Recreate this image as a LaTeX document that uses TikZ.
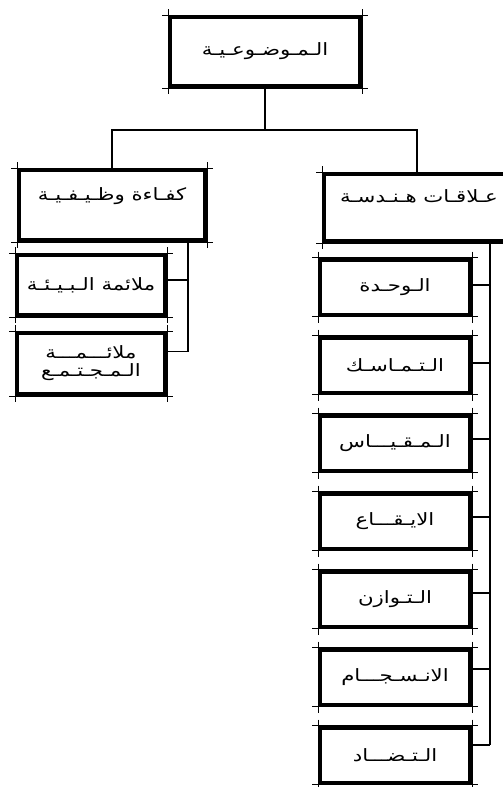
\documentclass[tikz,border=0pt]{standalone}
\usepackage{fontspec}
\newfontfamily\arabicfont[Script=Arabic, FakeStretch=1.25]{DejaVu Sans}
\TeXXeTstate=1
\usetikzlibrary{positioning}
\newcommand{\artxt}[1]{\beginR #1\endR}
\tikzset{
    box/.style={
        rectangle,
        draw=black,
        line width=4pt,
        fill=white,
        font={\arabicfont\fontsize{17}{21}\selectfont},
        align=center,
        inner sep=2pt
    },
    headbox/.style={box, text height=13pt, text depth=23pt},
    subbox/.style={box, minimum width=150pt, minimum height=55pt},
    link/.style={line width=1.6pt, draw=black},
    tick/.style={line width=0.8pt, draw=black}
}

\begin{document}
\begin{tikzpicture}[x=1pt, y=-1pt]
\useasboundingbox (0,0) rectangle (503,787);
\clip (0,0) rectangle (503,787);

% 1. Top box
\node[box, minimum width=190pt, minimum height=69pt] (root) at (265,51.5) {\artxt{الـمـوضـوعـيـة}};

% 2. Two branches
\node[headbox, minimum width=186pt, minimum height=70pt] (lhead) at (112,205) {\artxt{كفـاءة وظـيـفـيـة}};
\node[headbox, minimum width=190pt, minimum height=67pt] (rhead) at (419,207.5) {\artxt{عـلاقـات هـنـدسـة}};

% 3. Left column
\node[subbox, minimum width=148pt, minimum height=60pt] (l1) at (91,285) {\artxt{ملائمة الـبـيـئـة}};
\node[subbox, minimum width=148pt, minimum height=61pt, below=14pt of l1] (l2) {\artxt{ملائـــمـــة}\\[-3pt]\artxt{الـمـجـتـمـع}};

% 4. Right column
\node[subbox] (r1) at (395,287) {\artxt{الـوحـدة}};
\node[subbox, below=19pt of r1] (r2) {\artxt{الـتـمـاسـك}};
\node[subbox, below=19pt of r2] (r3) {\artxt{الـمـقـيـــاس}};
\node[subbox, below=19pt of r3] (r4) {\artxt{الايـقـــاع}};
\node[subbox, below=19pt of r4] (r5) {\artxt{الـتـوازن}};
\node[subbox, below=19pt of r5] (r6) {\artxt{الانـسـجـــام}};
\node[subbox, below=19pt of r6] (r7) {\artxt{الـتـضـــاد}};

% 5. Connections
\coordinate (bar) at (265,130);
\coordinate (rdrop) at (417,0);
\coordinate (lsp) at (188,0);
\coordinate (rsp) at (490,0);
\draw[link] (root.south) -- (bar);
\draw[link] (lhead.north) |- (bar) -| (rdrop |- rhead.north);

\coordinate (ls1) at ([yshift=5pt]l1.east);
\coordinate (ls2) at ([yshift=12pt]l2.east);
\draw[link] (lhead.south -| lsp) -- (ls2 -| lsp);
\foreach \i in {1,2}
    \draw[link] (ls\i) -- (ls\i -| lsp);

\foreach \i/\dy in {1/2,2/2,3/4,4/4,5/6,6/8,7/10}{
    \coordinate (rs\i) at ([yshift=\dy pt]r\i.east);
    \draw[link] (rs\i) -- (rs\i -| rsp);
}
\draw[link] (rhead.south -| rsp) -- (rs7 -| rsp);

% 6. Sketchy corners
\foreach \n in {root,lhead,rhead,l1,l2,r1,r2,r3,r4,r5,r6,r7}{
    \draw[tick] ([xshift=-6pt]\n.north west) -- ([xshift=6pt]\n.north east);
    \draw[tick] ([xshift=-6pt]\n.south west) -- ([xshift=6pt]\n.south east);
    \draw[tick] ([yshift=6pt]\n.north west) -- ([yshift=-6pt]\n.south west);
    \draw[tick] ([yshift=6pt]\n.north east) -- ([yshift=-6pt]\n.south east);
}

\end{tikzpicture}
\end{document}
